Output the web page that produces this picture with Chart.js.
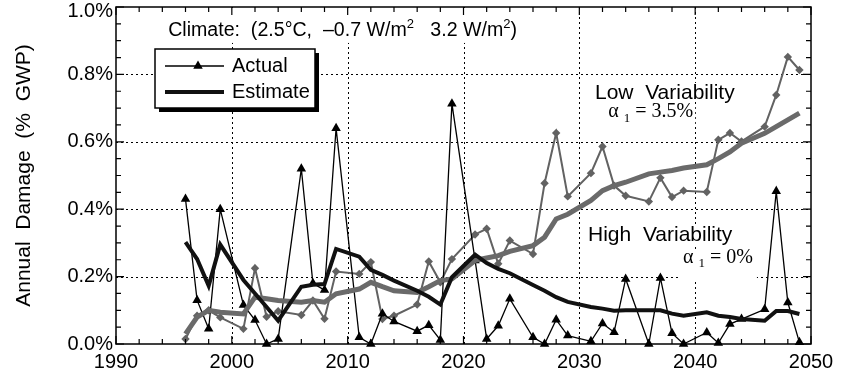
<!DOCTYPE html>
<html>
<head>
<meta charset="utf-8">
<script src="https://cdn.jsdelivr.net/npm/chart.js@4.4.1/dist/chart.umd.min.js"></script>
<style>
  html, body { margin: 0; padding: 0; background: #fff; }
  canvas { display: block; }
</style>
</head>
<body>
<canvas id="damageChart" width="847" height="379"></canvas>
<script>
// simulated years (every fifth year is not reported)
const years = [1996, 1997, 1998, 1999, 2001, 2002, 2003, 2004, 2006, 2007, 2008, 2009,
               2011, 2012, 2013, 2014, 2016, 2017, 2018, 2019, 2021, 2022, 2023, 2024,
               2026, 2027, 2028, 2029, 2031, 2032, 2033, 2034, 2036, 2037, 2038, 2039,
               2041, 2042, 2043, 2044, 2046, 2047, 2048, 2049];

// high variability (alpha1 = 0%), damage in % GWP
const actualHigh = [0.43, 0.13, 0.045, 0.40, 0.116, 0.071, 0.0, 0.015, 0.52, 0.18, 0.16, 0.64,
                    0.02, 0.0, 0.09, 0.067, 0.038, 0.056, 0.012, 0.713, 0.248, 0.015, 0.054, 0.134,
                    0.02, 0.0, 0.072, 0.025, 0.008, 0.061, 0.035, 0.193, 0.0, 0.196, 0.032, 0.0,
                    0.034, 0.003, 0.059, 0.074, 0.103, 0.453, 0.123, 0.005];
const estimateHigh = [0.302, 0.252, 0.173, 0.295, 0.19, 0.15, 0.11, 0.069, 0.17, 0.176, 0.178, 0.282,
                      0.259, 0.22, 0.205, 0.188, 0.158, 0.14, 0.117, 0.198, 0.265, 0.24, 0.223, 0.21,
                      0.175, 0.158, 0.139, 0.125, 0.11, 0.105, 0.099, 0.10, 0.10, 0.10, 0.09, 0.084,
                      0.094, 0.084, 0.08, 0.074, 0.069, 0.098, 0.098, 0.089];

// low variability (alpha1 = 3.5%)
const actualLow = [0.015, 0.084, 0.10, 0.079, 0.045, 0.225, 0.081, 0.097, 0.086, 0.129, 0.075, 0.215,
                   0.208, 0.243, 0.074, 0.084, 0.117, 0.245, 0.183, 0.252, 0.325, 0.342, 0.238, 0.307,
                   0.267, 0.477, 0.626, 0.438, 0.507, 0.586, 0.47, 0.44, 0.423, 0.493, 0.436, 0.455,
                   0.451, 0.606, 0.626, 0.601, 0.645, 0.739, 0.852, 0.813];
const estimateLow = [0.03, 0.08, 0.10, 0.094, 0.089, 0.139, 0.134, 0.129, 0.124, 0.129, 0.124, 0.149,
                     0.163, 0.183, 0.17, 0.158, 0.153, 0.17, 0.188, 0.193, 0.248, 0.255, 0.262, 0.275,
                     0.292, 0.317, 0.371, 0.385, 0.426, 0.455, 0.47, 0.48, 0.505, 0.51, 0.515, 0.522,
                     0.532, 0.55, 0.57, 0.596, 0.625, 0.645, 0.665, 0.685];

const xTicks = [1990, 2000, 2010, 2020, 2030, 2040, 2050];
const yTicks = [0, 0.2, 0.4, 0.6, 0.8, 1.0];
const yTickLabels = ['0.0%', '0.2%', '0.4%', '0.6%', '0.8%', '1.0%'];

const SANS = '"Liberation Sans", Arial, Helvetica, sans-serif';
const SERIF = '"Liberation Serif", "Times New Roman", serif';

const pts = vals => vals.map((v, i) => ({ x: years[i], y: v }));

// text notes in data coordinates; parts are drawn left to right
const notes = [
  { x: 1994.5, y: 0.929, boxTop: 0, boxBottom: 12,
    parts: [{ t: 'Climate:  (2.5\u00B0C,  \u20130.7 W/m', size: 19.6 }, { t: '2', size: 13, dy: -7 },
            { t: '   3.2 W/m', size: 19.6 }, { t: '2', size: 13, dy: -7 }, { t: ')', size: 19.6 }] },
  { x: 2031.35, y: 0.745, boxTop: 10, boxBottom: 9, parts: [{ t: 'Low  Variability', size: 21 }] },
  { x: 2032.5, y: 0.688, boxTop: 8, boxBottom: 12,
    parts: [{ t: '\u03B1 ', family: SERIF }, { t: '1', size: 13, dy: 6, family: SERIF },
            { t: ' = 3.5%', family: SERIF }] },
  { x: 2030.75, y: 0.323, boxTop: 10, boxBottom: 9, parts: [{ t: 'High  Variability', size: 21 }] },
  { x: 2038.95, y: 0.255, boxTop: 9, boxBottom: 22, padX: 4,
    parts: [{ t: '\u03B1 ', family: SERIF }, { t: '1', size: 13, dy: 6, family: SERIF },
            { t: ' = 0%', family: SERIF }] }
];

function partFont(p) {
  return (p.size || 20) + 'px ' + (p.family || SANS);
}

function partsWidth(ctx, parts) {
  let w = 0;
  parts.forEach(p => { ctx.font = partFont(p); w += ctx.measureText(p.t).width; });
  return w;
}

function drawParts(ctx, parts, x, y) {
  parts.forEach(p => {
    ctx.font = partFont(p);
    ctx.fillText(p.t, x, y + (p.dy || 0));
    x += ctx.measureText(p.t).width;
  });
}

const framePlugin = {
  id: 'frame',
  beforeDatasetsDraw(chart) {
    const { ctx, chartArea: a, scales: { x, y } } = chart;
    ctx.save();
    // dotted grid at the major ticks
    ctx.strokeStyle = '#000';
    ctx.lineWidth = 1;
    ctx.setLineDash([2, 3]);
    ctx.beginPath();
    xTicks.slice(1, -1).forEach(v => {
      const px = Math.round(x.getPixelForValue(v)) + 0.5;
      ctx.moveTo(px, a.top); ctx.lineTo(px, a.bottom);
    });
    yTicks.slice(1, -1).forEach(v => {
      const py = Math.round(y.getPixelForValue(v)) + 0.5;
      ctx.moveTo(a.left, py); ctx.lineTo(a.right, py);
    });
    ctx.stroke();
    ctx.setLineDash([]);

    // y tick labels, the top one kept inside the canvas
    ctx.fillStyle = '#000';
    ctx.font = '20px ' + SANS;
    ctx.textAlign = 'right';
    ctx.textBaseline = 'middle';
    yTicks.forEach((v, i) => {
      const py = Math.max(y.getPixelForValue(v), a.top + 4);
      ctx.fillText(yTickLabels[i], a.left - 3, py);
    });

    // notes sit on white so the grid stops behind them
    ctx.textAlign = 'left';
    notes.forEach(n => {
      const px = x.getPixelForValue(n.x);
      const py = y.getPixelForValue(n.y);
      const w = partsWidth(ctx, n.parts);
      const padX = n.padX || 2;
      const top = n.boxTop ? py - n.boxTop : a.top + 1;
      ctx.fillStyle = '#fff';
      ctx.fillRect(px - padX, top, w + 2 * padX, py + n.boxBottom - top);
      ctx.fillStyle = '#000';
      drawParts(ctx, n.parts, px, py);
    });
    ctx.restore();
  },
  afterDatasetsDraw(chart) {
    const { ctx, chartArea: a, scales: { x, y } } = chart;
    ctx.save();
    ctx.strokeStyle = '#000';
    ctx.lineWidth = 1.5;
    ctx.strokeRect(a.left, a.top, a.right - a.left, a.bottom - a.top);

    // inward tick marks on all four sides
    ctx.lineWidth = 1.2;
    ctx.beginPath();
    for (let v = 1990; v <= 2050; v += 2) {
      const px = x.getPixelForValue(v);
      const len = v % 10 === 0 ? 8 : 5;
      ctx.moveTo(px, a.bottom); ctx.lineTo(px, a.bottom - len);
      ctx.moveTo(px, a.top); ctx.lineTo(px, a.top + len);
    }
    for (let k = 0; k <= 20; k++) {
      const py = y.getPixelForValue(k * 0.05);
      const len = k % 4 === 0 ? 8 : 5;
      ctx.moveTo(a.left, py); ctx.lineTo(a.left + len, py);
      ctx.moveTo(a.right, py); ctx.lineTo(a.right - len, py);
    }
    ctx.stroke();

    // legend box with drop shadow
    const lg = { left: 155, top: 49, width: 160, height: 59 };
    ctx.fillStyle = '#000';
    ctx.fillRect(lg.left + 4, lg.top + 4, lg.width, lg.height);
    ctx.fillStyle = '#fff';
    ctx.fillRect(lg.left, lg.top, lg.width, lg.height);
    ctx.lineWidth = 1.5;
    ctx.strokeRect(lg.left, lg.top, lg.width, lg.height);

    const dsA = chart.data.datasets[2];
    const dsE = chart.data.datasets[0];
    const rowA = lg.top + 17, rowE = lg.top + 43;
    ctx.strokeStyle = dsA.borderColor;
    ctx.lineWidth = dsA.borderWidth;
    ctx.beginPath(); ctx.moveTo(lg.left + 10, rowA); ctx.lineTo(lg.left + 69, rowA); ctx.stroke();
    ctx.fillStyle = dsA.pointBackgroundColor;
    Chart.helpers.drawPoint(ctx, { pointStyle: 'triangle', radius: dsA.pointRadius, borderWidth: 0 },
                            lg.left + 43, rowA);
    ctx.strokeStyle = dsE.borderColor;
    ctx.lineWidth = dsE.borderWidth;
    ctx.beginPath(); ctx.moveTo(lg.left + 10, rowE); ctx.lineTo(lg.left + 69, rowE); ctx.stroke();

    ctx.fillStyle = '#000';
    ctx.font = '20px ' + SANS;
    ctx.textBaseline = 'middle';
    ctx.fillText('Actual', lg.left + 77, rowA);
    ctx.fillText('Estimate', lg.left + 77, rowE);
    ctx.restore();
  }
};

Chart.defaults.font.family = SANS;
Chart.defaults.font.size = 20;
Chart.defaults.color = '#000';

new Chart(document.getElementById('damageChart'), {
  type: 'line',
  data: {
    datasets: [
      { label: 'Estimate (high variability)', data: pts(estimateHigh), borderColor: '#111',
        borderWidth: 4, pointRadius: 0, order: 0 },
      { label: 'Estimate (low variability)', data: pts(estimateLow), borderColor: '#6a6a6a',
        borderWidth: 5, pointRadius: 0, order: 1 },
      { label: 'Actual (high variability)', data: pts(actualHigh), borderColor: '#000',
        borderWidth: 1.3, pointStyle: 'triangle', pointRadius: 5.5, pointBorderWidth: 0,
        pointBackgroundColor: '#000', order: 2 },
      { label: 'Actual (low variability)', data: pts(actualLow), borderColor: '#626262',
        borderWidth: 2, pointStyle: 'rectRot', pointRadius: 4.2, pointBorderWidth: 0,
        pointBackgroundColor: '#626262', order: 3 }
    ]
  },
  options: {
    responsive: false,
    animation: false,
    devicePixelRatio: 1,
    layout: { padding: { top: 7, right: 36, left: 0, bottom: 0 } },
    elements: { line: { tension: 0 } },
    datasets: { line: { clip: false } },
    plugins: { legend: { display: false }, tooltip: { enabled: false } },
    scales: {
      x: {
        type: 'linear', min: 1990, max: 2050,
        grid: { display: false }, border: { display: false },
        afterBuildTicks: s => { s.ticks = xTicks.map(v => ({ value: v })); },
        afterFit: s => { s.height = 35; s.paddingLeft = 0; s.paddingRight = 0; },
        ticks: { padding: -2, maxRotation: 0, autoSkip: false, callback: v => String(v) }
      },
      y: {
        min: 0, max: 1.0,
        grid: { display: false }, border: { display: false },
        afterBuildTicks: s => { s.ticks = yTicks.map(v => ({ value: v })); },
        afterFit: s => { s.width = 116; s.paddingTop = 0; s.paddingBottom = 0; },
        ticks: { display: false },
        title: { display: true, text: 'Annual  Damage  (%  GWP)', font: { size: 21 },
                 padding: { top: 12, bottom: 0 } }
      }
    }
  },
  plugins: [framePlugin]
});
</script>
</body>
</html>
